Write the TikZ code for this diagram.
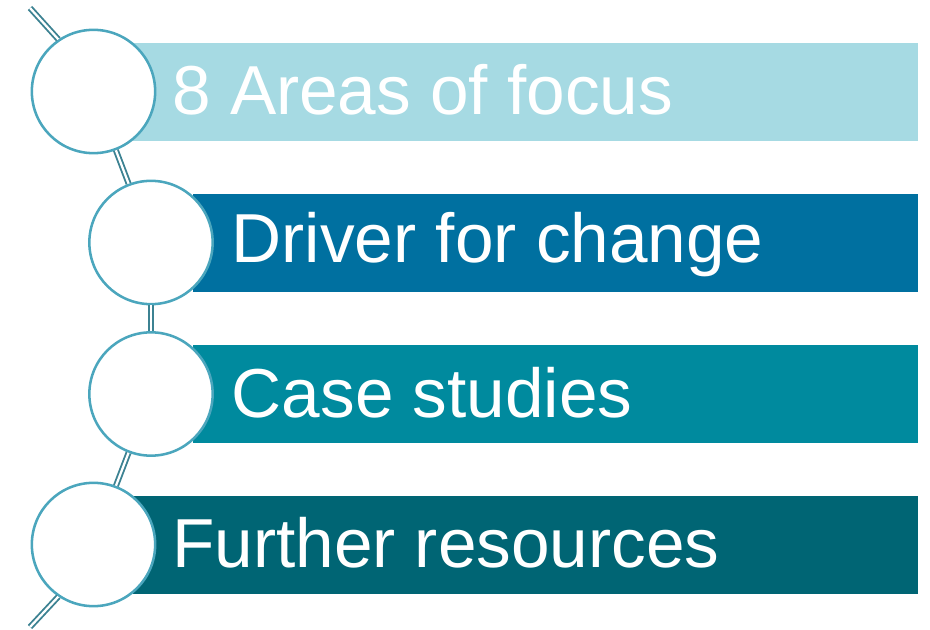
\documentclass[tikz,border=0pt]{standalone}
\usepackage{fontspec}
\setmainfont{Liberation Sans}
\usepackage{xcolor}
\usepackage{tikz}
\usetikzlibrary{positioning,calc}
\definecolor{barA}{RGB}{166,218,227}
\definecolor{barB}{RGB}{0,112,160}
\definecolor{barC}{RGB}{0,138,158}
\definecolor{barD}{RGB}{0,101,116}
\definecolor{ring}{RGB}{75,166,189}
\definecolor{chain}{RGB}{60,130,146}

\begin{document}
\begin{tikzpicture}[x=0.75pt, y=-0.75pt,
    bar/.style={anchor=north west, inner sep=0, minimum height=73.5pt},
    label/.style={anchor=base west, inner sep=0, text=white, font=\fontsize{52}{60}\selectfont},
    bead/.style={circle, draw=ring, fill=white, line width=1.9pt, minimum size=92.5pt, inner sep=0},
    link/.style={draw=chain, line width=1.4pt, double=white, double distance=1.7pt}]
    \useasboundingbox (0,0) rectangle (930,630);

    % Bars behind the circles
    \node[bar, fill=barA, minimum width=588.75pt] (bar1) at (133,43) {};
    \node[bar, fill=barB, minimum width=543.75pt] (bar2) at (193,194) {};
    \node[bar, fill=barC, minimum width=543.75pt] (bar3) at (193,345) {};
    \node[bar, fill=barD, minimum width=588.75pt] (bar4) at (133,496) {};

    % Texts
    \node[label] (txt1) at (172,115) {8 Areas of focus};
    \node[label] (txt2) at (231.5,263) {Driver for change};
    \node[label] (txt3) at (231.5,417) {Case studies};
    \node[label] (txt4) at (172,567) {Further resources};

    % Circles
    \node[bead] (c1) at (93.5,91.5) {};
    \node[bead] (c2) at (151,242.5) {};
    \node[bead] (c3) at (151,394) {};
    \node[bead] (c4) at (93.5,544.5) {};

    % Chain between the circles
    \coordinate (top) at (30,8);
    \coordinate (bottom) at (30,627);
    \draw[link] (top) -- (c1.124);
    \draw[link] (c1) -- (c2);
    \draw[link] (c2) -- (c3);
    \draw[link] (c3) -- (c4);
    \draw[link] (c4.236) -- (bottom);
\end{tikzpicture}
\end{document}
